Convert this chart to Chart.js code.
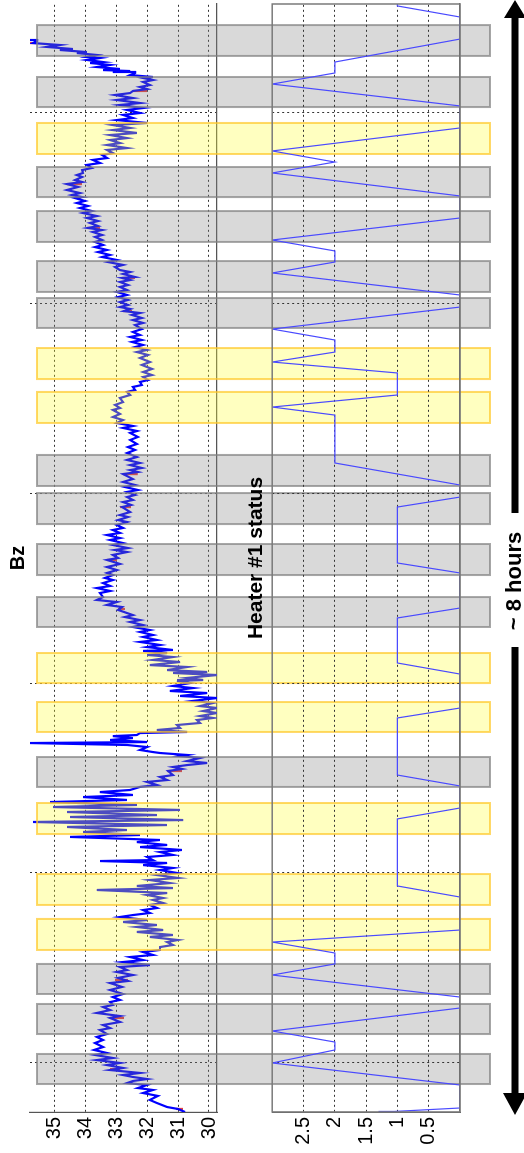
<!DOCTYPE html>
<html>
<head>
<meta charset="utf-8">
<script src="https://cdn.jsdelivr.net/npm/chart.js@4.4.0/dist/chart.umd.min.js"></script>
<style>
  html, body { margin: 0; padding: 0; background: #fff; overflow: hidden; }
  body { width: 524px; height: 1153px; position: relative; }
  /* the figure is laid out landscape, then turned a quarter turn */
  #fig {
    position: absolute; left: 0; top: 0;
    width: 1153px; height: 524px;
    transform-origin: 0 0;
    transform: translate(0px, 1153px) rotate(-90deg);
  }
  #fig canvas { position: absolute; left: 0; top: 0; }
</style>
</head>
<body>
<div id="fig">
  <canvas id="bz" width="1153" height="524"></canvas>
  <canvas id="heater" width="1153" height="524"></canvas>
</div>
<script>
// time in hours from start of the run
const timeGrid = [0.354, 1.726, 3.097, 4.469, 5.841, 7.213];
const bzTicks = [30, 31, 32, 33, 34, 35];
const heaterTicks = [0.5, 1, 1.5, 2, 2.5];

const bzTime = [
  0, 0.022, 0.036, 0.065, 0.087, 0.116, 0.137, 0.159, 0.173, 0.195,
  0.209, 0.224, 0.238, 0.253, 0.267, 0.282, 0.303, 0.318, 0.339, 0.354,
  0.375, 0.390, 0.412, 0.426, 0.448, 0.469, 0.498, 0.520, 0.542, 0.563,
  0.592, 0.606, 0.628, 0.650, 0.679, 0.693, 0.715, 0.736, 0.758, 0.773,
  0.794, 0.809, 0.830, 0.852, 0.881, 0.903, 0.931, 0.946, 0.968, 0.989,
  1.011, 1.025, 1.047, 1.061, 1.083, 1.097, 1.119, 1.134, 1.155, 1.170,
  1.191, 1.206, 1.227, 1.242, 1.264, 1.278, 1.300, 1.314, 1.336, 1.350,
  1.372, 1.386, 1.408, 1.422, 1.437, 1.458, 1.473, 1.495, 1.509, 1.531,
  1.545, 1.567, 1.581, 1.603, 1.617, 1.632, 1.653, 1.675, 1.690, 1.711,
  1.726, 1.747, 1.762, 1.783, 1.798, 1.812, 1.819, 1.841, 1.856, 1.877,
  1.892, 1.913, 1.928, 1.949, 1.964, 1.986, 2.000, 2.022, 2.036, 2.058,
  2.072, 2.094, 2.108, 2.130, 2.144, 2.166, 2.181, 2.202, 2.217, 2.238,
  2.253, 2.274, 2.289, 2.310, 2.325, 2.347, 2.361, 2.383, 2.397, 2.419,
  2.433, 2.462, 2.477, 2.491, 2.505, 2.520, 2.534, 2.556, 2.570, 2.578,
  2.592, 2.599, 2.614, 2.635, 2.650, 2.664, 2.671, 2.686, 2.700, 2.714,
  2.722, 2.736, 2.744, 2.758, 2.773, 2.794, 2.809, 2.830, 2.845, 2.859,
  2.881, 2.895, 2.917, 2.931, 2.953, 2.968, 2.989, 3.004, 3.025, 3.040,
  3.061, 3.076, 3.097, 3.112, 3.119, 3.134, 3.155, 3.170, 3.177, 3.191,
  3.213, 3.227, 3.249, 3.264, 3.285, 3.300, 3.314, 3.329, 3.336, 3.357,
  3.372, 3.394, 3.408, 3.430, 3.444, 3.466, 3.480, 3.502, 3.516, 3.538,
  3.552, 3.574, 3.588, 3.625, 3.646, 3.661, 3.682, 3.697, 3.718, 3.747,
  3.762, 3.783, 3.798, 3.819, 3.841, 3.856, 3.877, 3.892, 3.913, 3.935,
  3.957, 3.986, 4.000, 4.022, 4.043, 4.058, 4.072, 4.094, 4.108, 4.130,
  4.144, 4.166, 4.181, 4.202, 4.217, 4.238, 4.260, 4.274, 4.296, 4.310,
  4.332, 4.368, 4.383, 4.404, 4.419, 4.440, 4.455, 4.477, 4.491, 4.513,
  4.527, 4.549, 4.570, 4.606, 4.621, 4.635, 4.650, 4.671, 4.686, 4.708,
  4.729, 4.758, 4.780, 4.801, 4.823, 4.852, 4.874, 4.903, 4.917, 4.939,
  4.953, 4.975, 4.996, 5.018, 5.040, 5.069, 5.083, 5.105, 5.126, 5.155,
  5.177, 5.199, 5.213, 5.235, 5.249, 5.271, 5.285, 5.307, 5.321, 5.343,
  5.365, 5.394, 5.415, 5.444, 5.466, 5.487, 5.502, 5.523, 5.538, 5.560,
  5.574, 5.596, 5.610, 5.632, 5.653, 5.682, 5.697, 5.718, 5.733, 5.755,
  5.769, 5.783, 5.798, 5.812, 5.827, 5.848, 5.863, 5.884, 5.899, 5.921,
  5.935, 5.957, 5.971, 5.993, 6.007, 6.022, 6.029, 6.051, 6.065, 6.079,
  6.101, 6.116, 6.137, 6.152, 6.173, 6.188, 6.209, 6.224, 6.245, 6.260,
  6.282, 6.296, 6.318, 6.332, 6.354, 6.368, 6.383, 6.397, 6.419, 6.433,
  6.455, 6.469, 6.491, 6.505, 6.527, 6.542, 6.563, 6.578, 6.599, 6.606,
  6.621, 6.635, 6.657, 6.679, 6.700, 6.715, 6.729, 6.751, 6.765, 6.780,
  6.801, 6.816, 6.838, 6.852, 6.874, 6.888, 6.910, 6.924, 6.946, 6.960,
  6.982, 6.996, 7.018, 7.032, 7.054, 7.069, 7.090, 7.105, 7.126, 7.141,
  7.162, 7.177, 7.199, 7.213, 7.235, 7.249, 7.271, 7.285, 7.307, 7.321,
  7.343, 7.357, 7.372, 7.386, 7.401, 7.415, 7.437, 7.451, 7.466, 7.473,
  7.487, 7.502, 7.509, 7.516, 7.523, 7.531, 7.545, 7.560, 7.574, 7.581,
  7.596, 7.610, 7.617, 7.632, 7.646, 7.653, 7.668, 7.675, 7.690, 7.704,
  7.718, 7.733, 7.740
];
const bzValue = [
  30.78, 31.01, 31.36, 31.69, 31.92, 31.66, 32.14, 31.82, 32.31, 32.01,
  32.66, 32.47, 32.01, 32.47, 32.79, 32.24, 33.21, 32.79, 33.31, 32.89,
  33.64, 33.12, 33.70, 33.31, 33.73, 33.44, 33.70, 33.44, 33.64, 33.31,
  33.54, 33.21, 33.44, 32.89, 33.21, 32.89, 33.64, 33.21, 33.44, 33.12,
  33.21, 32.89, 33.12, 32.79, 33.21, 32.82, 33.21, 32.63, 32.95, 32.47,
  32.99, 32.66, 32.89, 31.92, 32.79, 32.14, 32.56, 31.82, 32.14, 31.59,
  31.59, 31.17, 31.36, 31.01, 31.92, 31.17, 32.34, 31.49, 32.34, 31.69,
  32.79, 32.01, 32.89, 32.47, 31.92, 32.14, 31.69, 31.92, 31.49, 31.82,
  31.49, 32.01, 31.36, 33.64, 31.17, 32.34, 31.27, 31.92, 31.01, 31.69,
  31.04, 31.59, 31.17, 32.14, 31.36, 33.54, 31.82, 32.01, 31.17, 31.59,
  30.88, 32.24, 31.36, 32.34, 31.59, 34.51, 32.24, 34.09, 32.66, 34.61,
  31.36, 35.71, 30.84, 34.51, 31.69, 34.61, 30.94, 35.06, 32.34, 35.16,
  32.66, 34.09, 32.47, 33.54, 32.56, 32.24, 31.69, 32.01, 31.36, 31.59,
  31.17, 31.33, 30.88, 31.17, 30.71, 30.06, 30.71, 30.29, 30.94, 30.71,
  31.59, 31.82, 32.24, 32.01, 32.66, 35.81, 32.01, 33.21, 32.47, 33.12,
  32.34, 32.24, 30.71, 31.69, 30.94, 31.04, 30.29, 30.39, 29.87, 30.29,
  29.74, 30.19, 29.74, 30.29, 29.87, 30.52, 29.74, 30.94, 30.06, 31.27,
  30.52, 31.17, 30.62, 31.04, 30.19, 30.71, 29.74, 31.17, 30.06, 31.36,
  30.71, 31.92, 30.94, 31.82, 31.17, 32.01, 31.36, 32.14, 31.17, 32.01,
  31.59, 32.24, 31.69, 32.14, 31.82, 32.24, 31.92, 32.47, 32.14, 32.56,
  32.24, 32.73, 32.47, 32.95, 32.82, 33.31, 32.99, 33.64, 33.44, 33.54,
  33.21, 33.64, 33.21, 33.44, 33.12, 33.38, 33.12, 33.31, 32.99, 33.31,
  32.89, 33.31, 32.95, 33.12, 32.66, 33.05, 32.63, 33.12, 32.79, 33.21,
  32.89, 33.31, 32.89, 33.12, 32.79, 32.99, 32.66, 32.95, 32.63, 32.89,
  32.56, 32.82, 32.53, 32.79, 32.47, 32.66, 32.40, 32.66, 32.31, 32.73,
  32.40, 32.79, 32.47, 32.79, 32.31, 32.56, 32.18, 32.56, 32.24, 32.66,
  32.34, 32.66, 32.40, 32.63, 32.34, 32.56, 32.31, 32.56, 32.34, 32.79,
  32.47, 32.99, 32.79, 33.12, 32.89, 33.12, 32.89, 33.05, 32.79, 32.89,
  32.56, 32.66, 32.40, 32.47, 32.18, 32.24, 31.98, 32.14, 31.85, 32.14,
  31.85, 32.18, 31.92, 32.24, 31.98, 32.34, 32.01, 32.40, 32.14, 32.50,
  32.18, 32.56, 32.24, 32.47, 32.18, 32.40, 32.14, 32.47, 32.18, 32.50,
  32.24, 32.76, 32.56, 32.89, 32.63, 32.89, 32.63, 32.95, 32.66, 32.99,
  32.66, 32.89, 32.63, 32.89, 32.56, 32.82, 32.40, 32.79, 32.56, 32.89,
  33.05, 32.79, 33.28, 32.99, 33.47, 33.21, 33.60, 33.31, 33.70, 33.44,
  33.70, 33.47, 33.70, 33.47, 33.77, 33.47, 33.93, 33.60, 33.86, 33.60,
  33.96, 33.64, 34.09, 33.80, 34.19, 33.93, 34.29, 34.03, 34.35, 34.12,
  34.45, 34.19, 34.61, 34.25, 34.61, 34.12, 34.35, 34.12, 34.29, 34.09,
  34.12, 33.80, 33.96, 33.54, 33.77, 33.31, 33.47, 33.12, 33.31, 32.66,
  33.31, 32.89, 33.21, 32.66, 33.21, 32.34, 33.12, 32.56, 33.12, 32.01,
  32.99, 32.47, 32.79, 32.24, 32.66, 32.14, 32.89, 32.24, 32.99, 32.47,
  33.05, 32.56, 32.47, 32.01, 32.24, 31.92, 32.14, 31.82, 32.14, 31.82,
  32.56, 32.40, 33.12, 32.56, 33.44, 32.89, 33.64, 33.21, 33.86, 33.44,
  33.96, 33.54, 33.96, 33.64, 34.29, 33.96, 34.84, 34.42, 35.26, 34.84,
  35.71, 35.58, 35.81
];

// short red marks on the Bz trace
const redTime = [0.022, 0.310, 0.679, 0.953, 2.462, 3.632, 3.986, 4.368, 4.606, 5.783, 6.022, 6.383, 6.700, 7.372, 7.718];
const redLow  = [30.84, 32.89, 32.76, 32.63, 30.88, 32.73, 32.99, 32.53, 32.31, 32.50, 32.40, 33.54, 34.12, 32.01, 35.58];
const redHigh = [31.07, 33.21, 33.21, 33.05, 31.36, 32.95, 33.31, 32.89, 32.79, 32.79, 32.82, 33.96, 34.61, 32.47, 35.81];

const heaterTime = [
  0, 0.004, 0.029, 0.195, 0.354, 0.448, 0.505, 0.585, 0.751, 0.830,
  0.989, 1.069, 1.148, 1.227, 1.314, 1.552, 1.632, 2.116, 2.195, 2.354,
  2.433, 2.845, 2.917, 3.162, 3.242, 3.567, 3.639, 3.892, 3.964, 4.368,
  4.440, 4.527, 4.686, 5.032, 5.090, 5.177, 5.336, 5.415, 5.487, 5.574,
  5.653, 5.812, 5.899, 6.058, 6.137, 6.217, 6.296, 6.455, 6.614, 6.780,
  6.859, 6.939, 7.105, 7.264, 7.422, 7.502, 7.581, 7.747, 7.906, 7.986,
  8.0
];
const heaterState = [
  1.3, 1.05, 0, 0, 3, 2, 2, 3, 0, 0,
  3, 2, 2, 3, 0, 0, 1, 1, 0, 0,
  1, 1, 0, 0, 1, 1, 0, 0, 1, 1,
  0, 0, 2, 2, 3, 1, 1, 3, 2, 2,
  3, 0, 0, 3, 2, 2, 3, 0, 0, 3,
  2, 3, 0, 0, 3, 2, 2, 0, 0, 1,
  1
];

// shaded periods
const bandStart = [0.202, 0.563, 0.852, 1.170, 1.495, 2.007, 2.347, 2.744, 3.097, 3.502, 3.877,
                   4.245, 4.520, 4.975, 5.292, 5.661, 5.921, 6.282, 6.606, 6.917, 7.256, 7.625];
const bandEnd   = [0.419, 0.780, 1.069, 1.394, 1.718, 2.231, 2.563, 2.960, 3.314, 3.718, 4.101,
                   4.469, 4.744, 5.199, 5.516, 5.877, 6.144, 6.505, 6.823, 7.141, 7.473, 7.848];
const bandKind  = ['gray', 'gray', 'gray', 'yellow', 'yellow', 'yellow', 'gray', 'yellow', 'yellow', 'gray', 'gray',
                   'gray', 'gray', 'yellow', 'yellow', 'gray', 'gray', 'gray', 'gray', 'yellow', 'gray', 'gray'];

const FONT = '"Liberation Sans", Arial, sans-serif';
const W = 1153, H = 524;

function timeAxis(bottomHeight) {
  return {
    type: 'linear',
    min: 0,
    max: 8,
    afterBuildTicks: s => { s.ticks = timeGrid.map(v => ({ value: v })); },
    afterFit: s => { s.height = bottomHeight; },
    ticks: { display: false },
    grid: { color: '#333', lineWidth: 1, drawTicks: false },
    border: { color: '#555', width: 1.2, dash: [2, 3] }
  };
}

function valueAxis(min, max, ticks) {
  return {
    min,
    max,
    afterBuildTicks: s => { s.ticks = ticks.map(v => ({ value: v })); },
    afterFit: s => { s.width = 41; },
    ticks: {
      color: '#000', padding: 5, font: { family: FONT, size: 20 },
      callback: v => String(v)
    },
    grid: { color: '#333', lineWidth: 1, drawTicks: false },
    border: { color: '#555', width: 1.2, dash: [2, 3] }
  };
}

const bzPoints = bzTime.map((t, i) => ({ x: t, y: bzValue[i] }));
const redPoints = [];
redTime.forEach((t, i) => {
  redPoints.push({ x: t, y: redLow[i] }, { x: t, y: redHigh[i] }, { x: t, y: null });
});
const heaterPoints = heaterTime.map((t, i) => ({ x: t, y: heaterState[i] }));

new Chart(document.getElementById('bz'), {
  type: 'line',
  data: {
    datasets: [
      { data: bzPoints, borderColor: '#0000ff', borderWidth: 2.2, pointRadius: 0, tension: 0 },
      { data: redPoints, borderColor: '#e8403c', borderWidth: 2.2, pointRadius: 0, spanGaps: false }
    ]
  },
  options: {
    responsive: false,
    animation: false,
    events: [],
    layout: { padding: { left: 0, right: 4, top: 0, bottom: 0 } },
    plugins: {
      legend: { display: false },
      tooltip: { enabled: false },
      title: {
        display: true, text: 'Bz', color: '#000', fullSize: false,
        font: { family: FONT, size: 20, weight: 'bold' },
        padding: { top: 6, bottom: 0 }
      }
    },
    scales: {
      x: timeAxis(H - 217),
      y: valueAxis(29.74, 35.81, bzTicks)
    }
  }
});

// bands over both panels, the heater frame and the time arrow
const overlay = {
  id: 'overlay',
  beforeDraw(chart) {
    const { ctx } = chart;
    const xs = chart.scales.x;
    ctx.save();
    bandStart.forEach((s, i) => {
      const a = xs.getPixelForValue(s);
      const b = xs.getPixelForValue(bandEnd[i]);
      const gray = bandKind[i] === 'gray';
      ctx.fillStyle = gray ? 'rgba(128,128,128,0.3)' : 'rgba(255,255,45,0.3)';
      ctx.fillRect(a, 37, b - a, 453);
      ctx.strokeStyle = gray ? 'rgba(128,128,128,0.7)' : 'rgba(255,200,40,0.7)';
      ctx.lineWidth = 2;
      ctx.strokeRect(a, 37, b - a, 453);
    });
    ctx.restore();
  },
  afterDraw(chart) {
    const { ctx, chartArea } = chart;
    ctx.save();
    ctx.strokeStyle = '#7a7a7a';
    ctx.lineWidth = 1.5;
    ctx.strokeRect(chartArea.left, chartArea.top, chartArea.right - chartArea.left, chartArea.bottom - chartArea.top);

    const y = 515;
    const x0 = chartArea.left - 3;
    const x1 = W;
    ctx.fillStyle = '#000';
    ctx.strokeStyle = '#000';
    ctx.lineWidth = 7;
    ctx.beginPath();
    ctx.moveTo(x0 + 18, y); ctx.lineTo(506, y);
    ctx.moveTo(640, y); ctx.lineTo(x1 - 14, y);
    ctx.stroke();
    ctx.beginPath();
    ctx.moveTo(x0, y); ctx.lineTo(x0 + 22, y - 12); ctx.lineTo(x0 + 22, y + 12);
    ctx.closePath(); ctx.fill();
    ctx.beginPath();
    ctx.moveTo(x1, y); ctx.lineTo(x1 - 18, y - 11); ctx.lineTo(x1 - 18, y + 11);
    ctx.closePath(); ctx.fill();
    ctx.font = 'bold 22px ' + FONT;
    ctx.textAlign = 'center';
    ctx.textBaseline = 'middle';
    ctx.fillText('~ 8 hours', 572, y);
    ctx.restore();
  }
};

new Chart(document.getElementById('heater'), {
  type: 'line',
  data: {
    datasets: [
      { data: heaterPoints, borderColor: '#4a4aff', borderWidth: 1.2, pointRadius: 0, tension: 0 }
    ]
  },
  options: {
    responsive: false,
    animation: false,
    events: [],
    layout: { padding: { left: 0, right: 4, top: 244, bottom: 0 } },
    plugins: {
      legend: { display: false },
      tooltip: { enabled: false },
      title: {
        display: true, text: 'Heater #1 status', color: '#000', fullSize: false,
        font: { family: FONT, size: 21, weight: 'bold' },
        padding: { top: 0, bottom: 3 }
      }
    },
    scales: {
      x: timeAxis(H - 460),
      y: valueAxis(0, 3, heaterTicks)
    }
  },
  plugins: [overlay]
});
</script>
</body>
</html>
